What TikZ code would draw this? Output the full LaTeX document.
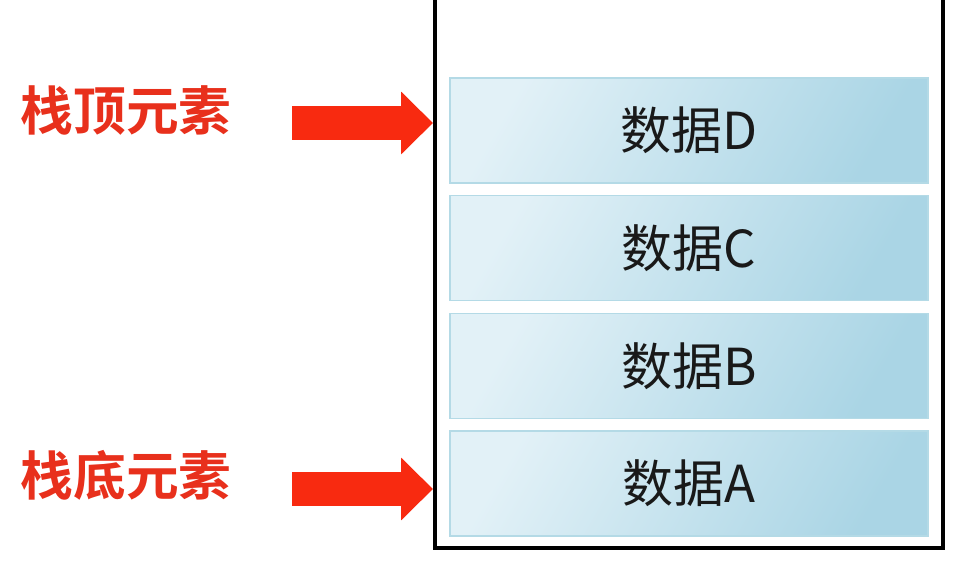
\documentclass[tikz,border=0pt]{standalone}
\usepackage{fontspec}
\newfontfamily\cjk{Noto Sans CJK SC}
\newfontfamily\cjkbold{Noto Sans CJK SC Bold}
\usetikzlibrary{arrows.meta, positioning}

\definecolor{labelred}{HTML}{E8301C}
\definecolor{arrowred}{HTML}{F82A10}
\definecolor{boxlight}{HTML}{E2F1F7}
\definecolor{boxdark}{HTML}{AAD5E5}
\definecolor{boxedge}{HTML}{B4DAE6}

\begin{document}
\begin{tikzpicture}[
    x=0.02cm, y=-0.02cm,
    databox/.style={draw=boxedge, line width=0.8pt, minimum width=9.56cm,
                    minimum height=2.1cm, left color=boxlight,
                    right color=boxdark, shading angle=60,
                    font=\cjk\fontsize{29}{32}\selectfont, text=black!90},
    tag/.style={font=\cjkbold\fontsize{30}{33}\selectfont, text=labelred},
    bigarrow/.style={arrowred, line width=0.68cm,
                     -{Triangle[length=0.64cm, width=1.22cm]}}
  ]
  \useasboundingbox (0,0) rectangle (974,564);

  % Stack frame (open at the top)
  \draw[line width=2.3pt] (435,0) -- (435,548) -- (943,548) -- (943,0);

  % Data cells
  \foreach \n/\y in {D/130.5, C/248, B/366, A/483.5} {
    \node[databox] (d\n) at (689,\y) {数据\n};
  }

  % Labels
  \node[tag] (top) at (126,110) {栈顶元素};
  \node[tag] (bottom) at (126,475) {栈底元素};

  % Pointer arrows
  \coordinate (ts) at (292,123);
  \coordinate (te) at (433,123);
  \coordinate (bs) at (292,489);
  \coordinate (be) at (433,489);
  \draw[bigarrow] (ts) -- (te);
  \draw[bigarrow] (bs) -- (be);
\end{tikzpicture}
\end{document}
